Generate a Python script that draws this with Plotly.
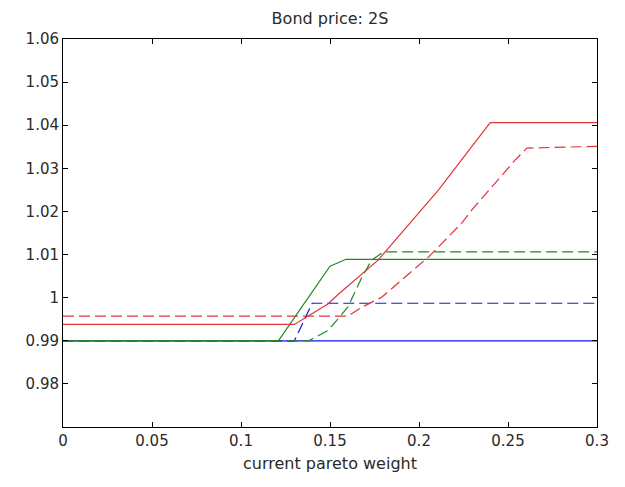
import plotly.graph_objects as go

# Series data (x = current pareto weight, y = bond price)
blue_solid_x = [0, 0.3]
blue_solid_y = [0.99, 0.99]

blue_dash_x = [0, 0.13, 0.14, 0.3]
blue_dash_y = [0.99, 0.99, 0.9987, 0.9987]

green_solid_x = [0, 0.121, 0.150, 0.159, 0.3]
green_solid_y = [0.99, 0.99, 1.0073, 1.0089, 1.0089]

green_dash_x = [0, 0.138, 0.149, 0.160, 0.168, 0.1734, 0.180, 0.3]
green_dash_y = [0.99, 0.99, 0.9924, 0.9978, 1.0048, 1.0087, 1.0106, 1.0106]

red_solid_x = [0, 0.130, 0.149, 0.155, 0.177, 0.211, 0.224, 0.240, 0.3]
red_solid_y = [0.9938, 0.9938, 0.9986, 1.0009, 1.0087, 1.025, 1.032, 1.0406, 1.0406]

red_dash_x = [0, 0.160, 0.168, 0.179, 0.2055, 0.224, 0.2298, 0.2542, 0.2606, 0.3]
red_dash_y = [0.9957, 0.9957, 0.9978, 1.0001, 1.0095, 1.0173, 1.0204, 1.032, 1.0347, 1.0351]

x_ticks = [0, 0.05, 0.1, 0.15, 0.2, 0.25, 0.3]
x_labels = ["0", "0.05", "0.1", "0.15", "0.2", "0.25", "0.3"]
y_ticks = [0.98, 0.99, 1.0, 1.01, 1.02, 1.03, 1.04, 1.05, 1.06]
y_labels = ["0.98", "0.99", "1", "1.01", "1.02", "1.03", "1.04", "1.05", "1.06"]

BLUE = "#1414ee"
GREEN = "#1d8a24"
RED = "#e2333c"
DASH = "11px,5px"

fig = go.Figure()
series = [
    (blue_solid_x, blue_solid_y, BLUE, "solid"),
    (blue_dash_x, blue_dash_y, BLUE, DASH),
    (green_dash_x, green_dash_y, GREEN, DASH),
    (green_solid_x, green_solid_y, GREEN, "solid"),
    (red_solid_x, red_solid_y, RED, "solid"),
    (red_dash_x, red_dash_y, RED, DASH),
]
for xs, ys, c, d in series:
    fig.add_trace(go.Scatter(x=xs, y=ys, mode="lines",
                             line=dict(color=c, width=1.2, dash=d),
                             showlegend=False, hoverinfo="skip"))

font = "DejaVu Sans, Verdana, sans-serif"
TXT = "#2a2a2a"
axis_common = dict(showline=True, linecolor="black", linewidth=1, mirror="ticks",
                   ticks="inside", ticklen=5, tickcolor="black", showgrid=False,
                   zeroline=False, tickfont=dict(family=font, size=15, color=TXT))

fig.update_layout(
    width=625, height=487,
    margin=dict(l=63, r=28, t=39, b=60),
    paper_bgcolor="white", plot_bgcolor="white",
    title=dict(text="Bond price: 2S", x=0.528, xanchor="center", y=0.963, yanchor="middle",
               font=dict(family=font, size=16, color=TXT)),
    xaxis=dict(range=[0, 0.3], tickvals=x_ticks, ticktext=x_labels,
               title=dict(text="current pareto weight", standoff=8,
                          font=dict(family=font, size=16, color=TXT)),
               **axis_common),
    yaxis=dict(range=[0.97, 1.06], tickvals=y_ticks, ticktext=y_labels, **axis_common),
)

fig.write_html("out.html")
